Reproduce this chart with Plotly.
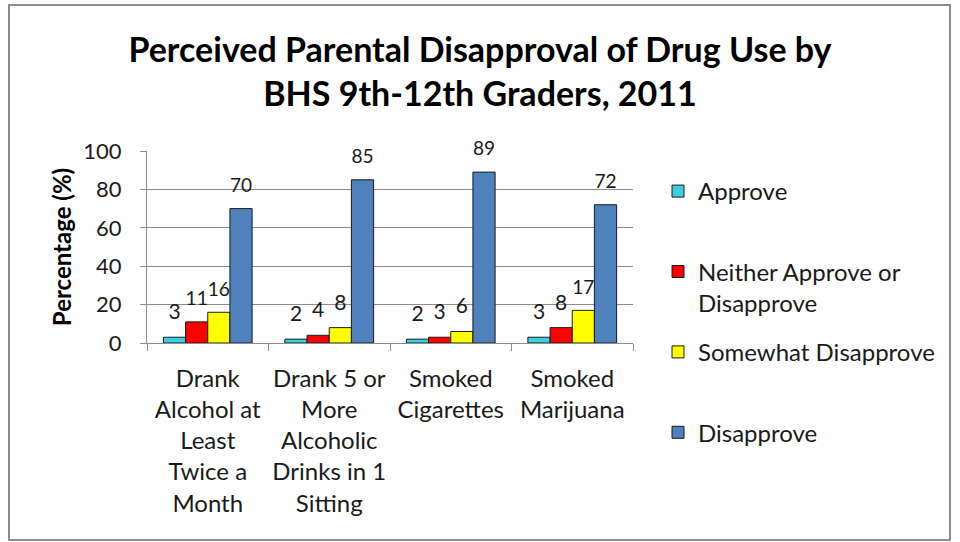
import plotly.graph_objects as go

categories = [
    "Drank<br>Alcohol at<br>Least<br>Twice a<br>Month",
    "Drank 5 or<br>More<br>Alcoholic<br>Drinks in 1<br>Sitting",
    "Smoked<br>Cigarettes",
    "Smoked<br>Marijuana",
]
series_names = ["Approve", "Neither Approve or<br>Disapprove", "Somewhat Disapprove", "Disapprove"]
approve = [3, 2, 2, 3]
neither = [11, 4, 3, 8]
somewhat = [16, 8, 6, 17]
disapprove = [70, 85, 89, 72]
y_ticks = [0, 20, 40, 60, 80, 100]

colors = ["#3CCFE3", "#FF0000", "#FFFF00", "#4F81BD"]
FONT = "Lato"
TXT = "#1a1a1a"
W, H = 960, 542
ML, MR, MT, MB = 147, 327, 151, 199
pw = W - ML - MR
ph = H - MT - MB

fig = go.Figure()
for name, vals, col in zip(series_names, [approve, neither, somewhat, disapprove], colors):
    legend_text = name if "<br>" in name else name + "<br> "
    fig.add_trace(go.Bar(
        x=categories, y=vals, name=legend_text,
        marker=dict(color=col, line=dict(color="#1a1a1a", width=1)),
        text=["<span style='font-size:21px'>%d</span><br> " % v for v in vals],
        textposition="outside",
        textfont=dict(family=FONT, size=10, color=TXT),
        cliponaxis=False,
        legendgroup=name,
    ))

# outer chart frame
fig.add_shape(type="rect", xref="paper", yref="paper",
              x0=(9 - ML) / pw, x1=(950 - ML) / pw,
              y0=-(540 - MT - ph) / ph, y1=1 + (MT - 5) / ph,
              line=dict(color="#8c8c8c", width=2), layer="below")

fig.update_layout(
    width=W, height=H,
    margin=dict(l=ML, r=MR, t=MT, b=MB, autoexpand=False),
    paper_bgcolor="white", plot_bgcolor="white",
    barmode="group", bargap=0.27, bargroupgap=0,
    font=dict(family=FONT, color=TXT, size=22),
    title=dict(
        text="<b>Perceived Parental Disapproval of Drug Use by<br>BHS 9th-12th Graders, 2011</b>",
        x=0.5, xref="container", xanchor="center",
        y=1 - 62 / H, yref="container", yanchor="top",
        font=dict(family=FONT, size=34, color="black"),
    ),
    xaxis=dict(
        showline=True, linecolor="#8c8c8c", linewidth=1,
        ticks="outside", tickson="boundaries", ticklen=7, tickcolor="#8c8c8c",
        tickfont=dict(family=FONT, size=24, color=TXT),
        tickangle=0, automargin=False,
        ticklabelstandoff=14,
        showgrid=False,
    ),
    yaxis=dict(
        range=[0, 100], tickvals=y_ticks,
        showline=True, linecolor="#8c8c8c", linewidth=1,
        ticks="outside", ticklen=6, tickcolor="#8c8c8c",
        ticklabelstandoff=14, automargin=False,
        showgrid=True, gridcolor="#8c8c8c", gridwidth=1,
        tickfont=dict(family=FONT, size=22, color=TXT),
        title=dict(text="<b>Percentage (%)</b>", font=dict(family=FONT, size=24, color="black"), standoff=4),
        zeroline=False,
    ),
    legend=dict(
        x=(658 - ML) / pw, xanchor="left", y=1 - (169 - MT) / ph, yanchor="top",
        font=dict(family=FONT, size=24, color=TXT),
        tracegroupgap=15, valign="top", bgcolor="rgba(0,0,0,0)",
        maxheight=500,
    ),
    showlegend=True,
)

fig.write_html("out.html", config={"displayModeBar": False},
               post_script="document.body.style.margin='0';")
